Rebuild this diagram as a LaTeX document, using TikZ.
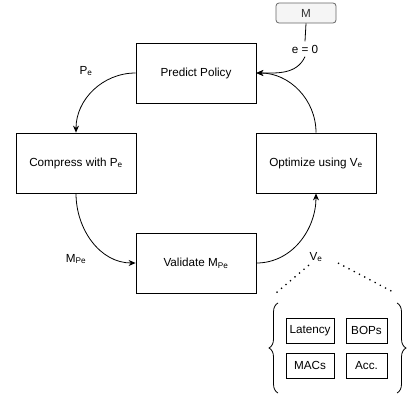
\documentclass[tikz,border=0pt]{standalone}
\usepackage{fontspec}
\setmainfont{Liberation Sans}
\usetikzlibrary{arrows.meta,decorations.pathreplacing}

\begin{document}
\begin{tikzpicture}[x=1pt, y=-1pt, >={Stealth[length=7pt,width=6pt]},
    every node/.style={font=\fontsize{11.7}{14}\selectfont},
    stage/.style={draw, line width=0.8pt, minimum width=120pt, minimum height=60pt, inner sep=0pt},
    metric/.style={draw, line width=0.8pt, minimum height=25pt, inner sep=0pt},
    model/.style={draw=black!60, fill=black!4, text=black!80, rounded corners=3pt, line width=0.8pt,
      minimum width=60pt, minimum height=20pt, inner sep=0pt},
    flow/.style={->, line width=0.8pt},
    dots/.style={line width=1.3pt, dash pattern=on 1.3pt off 4.6pt}]
    \useasboundingbox (0,0) rectangle (409,399);

    % Loop stages
    \node[stage] (predict) at (196,73) {Predict Policy};
    \node[stage] (compress) at (76,163) {Compress with P\textsubscript{e}};
    \node[stage] (optimize) at (316,163) {Optimize using V\textsubscript{e}};
    \node[stage] (validate) at (196,263) {Validate M\textsubscript{Pe}};

    % Initial model
    \node[model] (model) at (306,13) {M};
    \node[fill=white] (init) at (305,49) {e = 0};

    % Edge labels
    \node (plabel) at (86,71) {P\textsubscript{e}};
    \node (mlabel) at (76,259) {M\textsubscript{Pe}};
    \node (vlabel) at (316,257) {V\textsubscript{e}};

    % Loop edges
    \draw[line width=0.8pt] (model.south) -- (init.north);
    \draw[flow] (init.south) to[out=-115, in=0] (predict.east);
    \draw[flow] (predict.west) to[out=180, in=90] (compress.north);
    \draw[flow] (compress.south) to[out=-90, in=180] (validate.west);
    \draw[flow] (validate.east) to[out=0, in=-90] (optimize.south);
    \draw[flow] (optimize.north) to[out=90, in=0] (predict.east);

    % Metrics
    \node[metric, minimum width=48pt] (latency) at (310,330.5) {Latency};
    \node[metric, minimum width=41pt] (bops) at (366.5,330.5) {BOPs};
    \node[metric, minimum width=48pt] (macs) at (310,365.5) {MACs};
    \node[metric, minimum width=41pt] (acc) at (366.5,365.5) {Acc.};

    \draw[line width=0.8pt, decorate, decoration={brace, amplitude=9pt}] (278,393) -- (278,303);
    \draw[line width=0.8pt, decorate, decoration={brace, amplitude=9pt}] (397,303) -- (397,393);

    % Zoom lines
    \coordinate (zl) at (276,293);
    \coordinate (zr) at (395,293);
    \draw[dots] (309,265) -- (zl);
    \draw[dots] (338,263) -- (zr);
\end{tikzpicture}
\end{document}
